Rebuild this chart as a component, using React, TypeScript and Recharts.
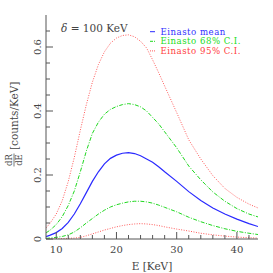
import React from 'react';
import { LineChart, Line, XAxis, YAxis, Legend, Label } from 'recharts';

const energies = [8.3, 9, 10, 11, 12, 13, 14, 15, 16, 17, 18, 19, 20, 21, 22, 23, 24, 25, 26, 27, 28, 30, 32, 34, 36, 38, 40, 42, 43.5];
const meanRate = [0.007, 0.012, 0.02, 0.033, 0.052, 0.078, 0.11, 0.145, 0.18, 0.21, 0.235, 0.252, 0.262, 0.268, 0.27, 0.267, 0.26, 0.25, 0.24, 0.226, 0.21, 0.18, 0.148, 0.12, 0.097, 0.078, 0.062, 0.048, 0.039];
const upper68 = [0.019, 0.028, 0.045, 0.07, 0.105, 0.15, 0.21, 0.275, 0.33, 0.365, 0.39, 0.405, 0.414, 0.42, 0.423, 0.42, 0.413, 0.4, 0.38, 0.36, 0.335, 0.285, 0.228, 0.185, 0.147, 0.118, 0.095, 0.078, 0.069];
const lower68 = [0.002, 0.003, 0.005, 0.008, 0.013, 0.022, 0.035, 0.05, 0.064, 0.078, 0.09, 0.1, 0.107, 0.112, 0.116, 0.118, 0.118, 0.116, 0.112, 0.106, 0.099, 0.085, 0.068, 0.054, 0.042, 0.032, 0.024, 0.018, 0.014];
const upper95 = [0.034, 0.05, 0.078, 0.12, 0.18, 0.255, 0.34, 0.42, 0.49, 0.545, 0.585, 0.612, 0.628, 0.636, 0.638, 0.632, 0.618, 0.597, 0.56, 0.52, 0.478, 0.395, 0.31, 0.25, 0.198, 0.158, 0.13, 0.109, 0.097];
const lower95 = [0, 0, 0.001, 0.001, 0.002, 0.003, 0.005, 0.01, 0.016, 0.022, 0.028, 0.033, 0.038, 0.042, 0.045, 0.047, 0.048, 0.047, 0.045, 0.042, 0.038, 0.031, 0.025, 0.018, 0.013, 0.009, 0.006, 0.004, 0.003];

const xMajorTicks = [10, 20, 30, 40];
const xMinorTicks = [12, 14, 16, 18, 22, 24, 26, 28, 32, 34, 36, 38, 42];
const yMajorTicks = [0, 0.2, 0.4, 0.6];
const yMinorTicks = [0.05, 0.1, 0.15, 0.25, 0.3, 0.35, 0.45, 0.5, 0.55, 0.65];
const yTickLabels = ['0', '0.2', '0.4', '0.6'];

const legendNames = ['Einasto mean', 'Einasto 68% C.I.', 'Einasto 95% C.I.'];
const legendColors = ['#3030ff', '#22dd22', '#ff4040'];
const annotation = '100 KeV';

const data = energies.map((e, i) => ({
  e,
  mean: meanRate[i],
  up68: upper68[i],
  lo68: lower68[i],
  up95: upper95[i],
  lo95: lower95[i],
}));

const FONT = 'DejaVu Serif, Liberation Serif, serif';
const AXIS = '#555';
const MEAN = '#2a2aff';
const CI68 = '#1fd81f';
const CI95 = '#ff5a5a';

const isMajor = (v: number, majors: number[]) => majors.some((m) => Math.abs(m - v) < 1e-6);

function makeTick(side: 'bottom' | 'top' | 'left' | 'right', majors: number[]) {
  return (props: any) => {
    const { x, y, payload } = props;
    const v = payload.value as number;
    const major = isMajor(v, majors);
    const len = major ? 7 : 4;
    let line;
    if (side === 'bottom') line = <line x1={x} y1={y} x2={x} y2={y - len} stroke={AXIS} />;
    else if (side === 'top') line = <line x1={x} y1={y} x2={x} y2={y + len} stroke={AXIS} />;
    else if (side === 'left') line = <line x1={x} y1={y} x2={x + len} y2={y} stroke={AXIS} />;
    else line = <line x1={x} y1={y} x2={x - len} y2={y} stroke={AXIS} />;

    let label = null;
    if (major && side === 'bottom') {
      label = (
        <text x={x} y={y + 14} textAnchor="middle" fontSize={10} fontFamily={FONT} fill="#444">
          {v}
        </text>
      );
    }
    if (major && side === 'left') {
      const idx = yMajorTicks.findIndex((m) => Math.abs(m - v) < 1e-6);
      label = (
        <text x={x - 5} y={y} transform={`rotate(-90, ${x - 5}, ${y})`} textAnchor="middle" fontSize={10} fontFamily={FONT} fill="#444">
          {yTickLabels[idx]}
        </text>
      );
    }
    return (
      <g>
        {line}
        {label}
      </g>
    );
  };
}

function XTitle(props: any) {
  const { viewBox } = props;
  return (
    <text x={viewBox.x + viewBox.width / 2} y={viewBox.y + viewBox.height - 3} textAnchor="middle" fontSize={10.5} fontFamily={FONT} fill="#444">
      E [KeV]
    </text>
  );
}

function YTitle() {
  return (
    <g transform="translate(14, 120) rotate(-90)" fontFamily={FONT} fill="#444">
      <text x={-40} y={-2} textAnchor="middle" fontSize={8.5}>dR</text>
      <line x1={-46.5} x2={-33.5} y1={0} y2={0} stroke="#444" strokeWidth={0.7} />
      <text x={-40} y={7.5} textAnchor="middle" fontSize={8.5}>dE</text>
      <text x={-30} y={4} textAnchor="start" fontSize={10.5}>[counts/KeV]</text>
    </g>
  );
}

function LegendBox() {
  const samples = [
    { stroke: MEAN, dash: undefined },
    { stroke: CI68, dash: '3 1' },
    { stroke: CI95, dash: '1 1' },
  ];
  return (
    <svg width={215} height={40} style={{ display: 'block' }}>
      <text x={11} y={9.5} fontSize={10.5} fontFamily={FONT} fill="#444">
        <tspan fontStyle="italic">δ</tspan> = {annotation}
      </text>
      {legendNames.map((name, i) => (
        <g key={name}>
          <line x1={100} x2={105} y1={9.7 + i * 9.6} y2={9.7 + i * 9.6} stroke={samples[i].stroke} strokeDasharray={samples[i].dash} />
          <text x={110.5} y={9.7 + i * 9.6} dy="0.34em" fontSize={8.6} letterSpacing={0.5} fontFamily={FONT} fill={legendColors[i]}>
            {name}
          </text>
        </g>
      ))}
    </svg>
  );
}

export default function App() {
  return (
    <div style={{ position: 'absolute', left: 0, top: 0, width: 273, height: 273, background: '#fff' }}>
      <LineChart width={273} height={273} data={data} margin={{ top: 15, right: 15, bottom: 0, left: 0 }}>
        <XAxis
          xAxisId="bottom"
          dataKey="e"
          type="number"
          domain={[8.3, 43.5]}
          allowDataOverflow
          ticks={[...xMajorTicks, ...xMinorTicks].sort((a, b) => a - b)}
          interval={0}
          height={34}
          tickSize={0}
          tickMargin={0}
          tickLine={false}
          stroke={AXIS}
          tick={makeTick('bottom', xMajorTicks)}
        >
          <Label content={XTitle} />
        </XAxis>
        <XAxis
          xAxisId="top"
          orientation="top"
          dataKey="e"
          type="number"
          domain={[8.3, 43.5]}
          allowDataOverflow
          ticks={[...xMajorTicks, ...xMinorTicks].sort((a, b) => a - b)}
          interval={0}
          height={0}
          tickSize={0}
          tickMargin={0}
          tickLine={false}
          stroke={AXIS}
          tick={makeTick('top', xMajorTicks)}
        />
        <YAxis
          yAxisId="left"
          type="number"
          domain={[0, 0.7]}
          allowDataOverflow
          ticks={[...yMajorTicks, ...yMinorTicks].sort((a, b) => a - b)}
          interval={0}
          width={46}
          tickSize={0}
          tickMargin={0}
          tickLine={false}
          stroke={AXIS}
          tick={makeTick('left', yMajorTicks)}
        >
          <Label content={YTitle} />
        </YAxis>
        <YAxis
          yAxisId="right"
          orientation="right"
          type="number"
          domain={[0, 0.7]}
          allowDataOverflow
          ticks={[...yMajorTicks, ...yMinorTicks].sort((a, b) => a - b)}
          interval={0}
          width={0}
          tickSize={0}
          tickMargin={0}
          tickLine={false}
          stroke={AXIS}
          tick={makeTick('right', yMajorTicks)}
        />
        <Legend
          layout="vertical"
          align="center"
          verticalAlign="middle"
          content={LegendBox}
          wrapperStyle={{ position: 'absolute', left: 50, top: 22, width: 215, height: 40 }}
        />
        {/* frame helper: keeps top/right axes bound to data */}
        <Line xAxisId="top" yAxisId="right" dataKey="mean" stroke="none" dot={false} legendType="none" isAnimationActive={false} />
        <Line xAxisId="bottom" yAxisId="left" dataKey="up95" stroke={CI95} strokeWidth={1} strokeDasharray="1 1.5" dot={false} isAnimationActive={false} />
        <Line xAxisId="bottom" yAxisId="left" dataKey="lo95" stroke={CI95} strokeWidth={1} strokeDasharray="1 1.5" dot={false} isAnimationActive={false} />
        <Line xAxisId="bottom" yAxisId="left" dataKey="up68" stroke={CI68} strokeWidth={1} strokeDasharray="4 1.5 1 1.5" dot={false} isAnimationActive={false} />
        <Line xAxisId="bottom" yAxisId="left" dataKey="lo68" stroke={CI68} strokeWidth={1} strokeDasharray="4 1.5 1 1.5" dot={false} isAnimationActive={false} />
        <Line xAxisId="bottom" yAxisId="left" dataKey="mean" stroke={MEAN} strokeWidth={1.2} dot={false} isAnimationActive={false} />
      </LineChart>
    </div>
  );
}
